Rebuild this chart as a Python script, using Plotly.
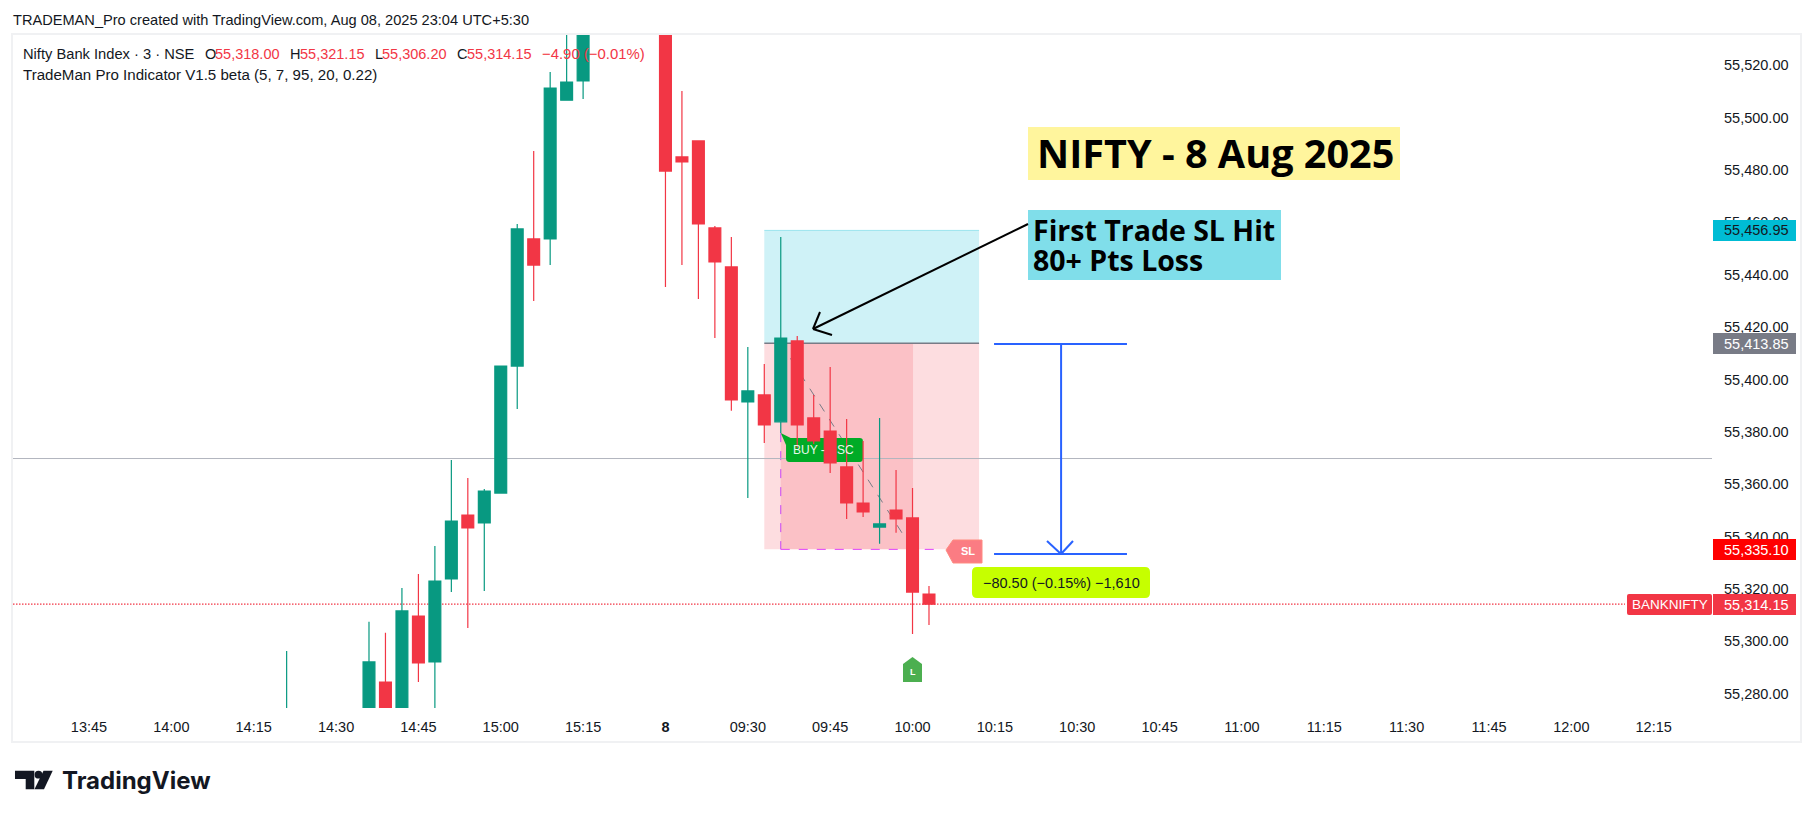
import plotly.graph_objects as go

W, H = 1815, 818
bar_index = [12, 17, 18, 19, 20, 21, 22, 23, 24, 25, 26, 27, 28, 29, 30,
             35, 36, 37, 38, 39, 40, 41, 42, 43, 44, 45, 46, 47, 48, 49, 50, 51]
opens = [55265, 55265, 55284.4, 55262, 55309.6, 55292.1, 55323.8, 55348.2, 55345.2, 55356.6, 55405.1, 55453.7, 55453.7, 55506.7, 55514.0,
         55560, 55485.0, 55491.1, 55457.9, 55443.0, 55391.4, 55394.1, 55383.8, 55414.7, 55385.3, 55380.3, 55366.6, 55352.8, 55343.6, 55350.1, 55347.1, 55318.0]
highs = [55296.3, 55307.4, 55303.2, 55320.3, 55325.7, 55336.4, 55369.2, 55362.4, 55358.2, 55405.1, 55459.4, 55487.3, 55517.4, 55540, 55550,
         55560, 55510.2, 55491.1, 55458.6, 55454.4, 55412.4, 55405.9, 55454.4, 55416.6, 55394.1, 55404.8, 55384.9, 55376.5, 55385.3, 55365.4, 55358.5, 55321.15]
lows = [55260, 55260, 55262, 55262, 55284.4, 55270, 55318.8, 55305.1, 55319.2, 55356.6, 55388.7, 55430.0, 55443.7, 55506.7, 55507.1,
        55435.3, 55443.7, 55430.7, 55415.8, 55388.0, 55354.7, 55375.7, 55379.5, 55373.8, 55375.3, 55364.3, 55346.7, 55347.5, 55337.2, 55341.4, 55302.8, 55306.2]
closes = [55270, 55292.1, 55262, 55311.6, 55291.7, 55323.0, 55345.9, 55343.3, 55357.4, 55405.1, 55457.5, 55443.7, 55511.3, 55513.6, 55545,
          55479.6, 55483.1, 55459.4, 55444.9, 55392.2, 55395.6, 55382.6, 55415.8, 55382.6, 55376.5, 55368.1, 55352.8, 55349.4, 55344.8, 55346.7, 55318.8, 55314.15]

time_tick_index = list(range(0, 100, 5))
time_tick_labels = ["13:45", "14:00", "14:15", "14:30", "14:45", "15:00", "15:15", "<b>8</b>", "09:30", "09:45",
                    "10:00", "10:15", "10:30", "10:45", "11:00", "11:15", "11:30", "11:45", "12:00", "12:15"]
price_ticks = [55280, 55300, 55320, 55340, 55360, 55380, 55400, 55420, 55440, 55460, 55480, 55500, 55520]

last_close = 55314.15
crosshair_price = 55369.8
target_price = 55456.95
entry_price = 55413.85
stop_price = 55335.10
measure_top = 55413.5
measure_bottom = 55333.3
buy_label_top = 55377.6
buy_label_bottom = 55368.5

GREEN = "#089981"
RED = "#F23645"
INK = "#131722"
FONT = "Liberation Sans"
BIG = "Open Sans"


def px(x):
    return x / W


def py(y):
    return 1 - y / H


fig = go.Figure(go.Candlestick(
    x=bar_index, open=opens, high=highs, low=lows, close=closes,
    increasing=dict(line=dict(color=GREEN, width=1.2), fillcolor=GREEN),
    decreasing=dict(line=dict(color=RED, width=1.2), fillcolor=RED),
    whiskerwidth=0, showlegend=False, hoverinfo="skip"))

shapes = []
annots = []


def rect_data(x0, x1, y0, y1, fill, layer="below"):
    shapes.append(dict(type="rect", xref="x", yref="y", x0=x0, x1=x1, y0=y0, y1=y1,
                       fillcolor=fill, line=dict(width=0), layer=layer))


def line_data(x0, y0, x1, y1, color, width=1, dash="solid", layer="below"):
    shapes.append(dict(type="line", xref="x", yref="y", x0=x0, y0=y0, x1=x1, y1=y1,
                       line=dict(color=color, width=width, dash=dash), layer=layer))


def rect_px(x0, y0, x1, y1, fill, layer="above", line=None):
    shapes.append(dict(type="rect", xref="paper", yref="paper", x0=px(x0), x1=px(x1), y0=py(y1), y1=py(y0),
                       fillcolor=fill, line=line or dict(width=0), layer=layer))


def round_px(x0, y0, x1, y1, r, fill, layer="above"):
    pts = (f"M {px(x0 + r):.5f} {py(y0):.5f} L {px(x1 - r):.5f} {py(y0):.5f} "
           f"Q {px(x1):.5f} {py(y0):.5f} {px(x1):.5f} {py(y0 + r):.5f} "
           f"L {px(x1):.5f} {py(y1 - r):.5f} Q {px(x1):.5f} {py(y1):.5f} {px(x1 - r):.5f} {py(y1):.5f} "
           f"L {px(x0 + r):.5f} {py(y1):.5f} Q {px(x0):.5f} {py(y1):.5f} {px(x0):.5f} {py(y1 - r):.5f} "
           f"L {px(x0):.5f} {py(y0 + r):.5f} Q {px(x0):.5f} {py(y0):.5f} {px(x0 + r):.5f} {py(y0):.5f} Z")
    shapes.append(dict(type="path", xref="paper", yref="paper", path=pts, fillcolor=fill,
                       line=dict(width=0), layer=layer))


def round_data(x0, x1, y0, y1, rx, ry, fill):
    d = (f"M {x0 + rx} {y1} L {x1 - rx} {y1} Q {x1} {y1} {x1} {y1 - ry} "
         f"L {x1} {y0 + ry} Q {x1} {y0} {x1 - rx} {y0} "
         f"L {x0 + rx} {y0} Q {x0} {y0} {x0} {y0 + ry} "
         f"L {x0} {y1 - ry} Q {x0} {y1} {x0 + rx} {y1} Z")
    shapes.append(dict(type="path", xref="x", yref="y", path=d, fillcolor=fill,
                       line=dict(width=0), layer="below"))


def line_px(x0, y0, x1, y1, color, width=1, dash="solid", layer="above"):
    shapes.append(dict(type="line", xref="paper", yref="paper", x0=px(x0), y0=py(y0), x1=px(x1), y1=py(y1),
                       line=dict(color=color, width=width, dash=dash), layer=layer))


def poly_px(points, fill, layer="above", line=None):
    d = "M " + " L ".join(f"{px(a):.5f} {py(b):.5f}" for a, b in points) + " Z"
    shapes.append(dict(type="path", xref="paper", yref="paper", path=d, fillcolor=fill,
                       line=line or dict(width=0), layer=layer))


def text_px(x, y, s, size=14.5, color=INK, anchor="left", family=FONT):
    annots.append(dict(xref="paper", yref="paper", x=px(x), y=py(y), text=s, showarrow=False,
                       xanchor=anchor, yanchor="middle", align="left",
                       font=dict(family=family, size=size, color=color),
                       borderpad=0, borderwidth=0))


# position tool
rect_data(41, 54.04, entry_price, target_price, "rgba(0,188,212,0.19)")
rect_data(41, 54.04, stop_price, entry_price, "rgba(244,67,84,0.18)")
rect_data(42, 50.03, stop_price, entry_price, "rgba(244,67,84,0.18)")
line_data(41, entry_price, 54.04, entry_price, "#787B86", 1.5)
line_data(41, target_price, 54.04, target_price, "rgba(0,188,212,0.3)", 1)
line_data(42, entry_price, 50, stop_price, "#787B86", 1, "dash")
line_data(42, 55379.5, 42, stop_price, "#C944F5", 1, "dash")
line_data(42, stop_price, 51.6, stop_price, "#E040FB", 1, "dash")

# horizontal lines
line_data(-4.614, crosshair_price, 98.54, crosshair_price, "#B2B5BE", 1)
line_data(-4.614, last_close, 93.26, last_close, RED, 1.3, "1.5px,1.5px")

# buy label under the candles
round_data(42.32, 46.99, buy_label_bottom, buy_label_top, 0.2, 1.2, "#00AB26")
shapes.append(dict(type="path", xref="x", yref="y",
                   path=f"M 42 55379.5 L 42.6 {buy_label_top} L 42.32 55375 Z",
                   fillcolor="#00AB26", line=dict(width=0), layer="below"))
text_px(793, 450, "BUY -", 12, "#E8F8EC")
text_px(836.5, 450, "SC", 12, "#E8F8EC")

# frame
rect_px(12, 34, 1801, 742, "rgba(0,0,0,0)", layer="above", line=dict(color="#F0F1F3", width=2))

# header and legend
text_px(13, 20, "TRADEMAN_Pro created with TradingView.com, Aug 08, 2025 23:04 UTC+5:30", 14.6)
text_px(23, 54, "Nifty Bank Index · 3 · NSE", 14.7)
for lx, lab, vx, val in [(204.5, "O", 215, "55,318.00"), (290, "H", 300, "55,321.15"),
                         (375, "L", 382, "55,306.20"), (457, "C", 466.5, "55,314.15")]:
    text_px(lx, 54, lab)
    text_px(vx, 54, val, color=RED)
text_px(541.5, 54, "−4.90 (−0.01%)", 14.9, color=RED)
text_px(23, 75, "TradeMan Pro Indicator V1.5 beta (5, 7, 95, 20, 0.22)", 15.1)

# text boxes
rect_px(1028, 127, 1400, 180, "#FFF59D")
text_px(1037, 153, "<b>NIFTY - 8 Aug 2025</b>", 39.6, "#000000", family=BIG)
rect_px(1028, 210, 1281, 280, "#80DEEA")
text_px(1033, 230, "<b>First Trade SL Hit</b>", 28.5, "#000000", family=BIG)
text_px(1033, 260, "<b>80+ Pts Loss</b>", 28.5, "#000000", family=BIG)

# arrow
line_px(1028, 224, 813, 329, "#000000", 2)
line_px(813, 329, 820, 312, "#000000", 2)
line_px(813, 329, 832, 335, "#000000", 2)

# measure
BLUE = "#2962FF"
line_data(54.95, measure_top, 63.02, measure_top, BLUE, 2, layer="above")
line_data(54.95, measure_bottom, 63.02, measure_bottom, BLUE, 2, layer="above")
line_data(59.02, measure_top, 59.02, measure_bottom, BLUE, 2, layer="above")
line_px(1061, 554, 1047, 541, BLUE, 2)
line_px(1061, 554, 1073, 541, BLUE, 2)
round_px(972, 567, 1150, 598, 5, "#C6FF00")
text_px(1061, 582.5, "−80.50 (−0.15%) −1,610", 14.5, "#131722", anchor="center")

# SL marker
poly_px([(946, 550), (953, 540), (982, 540), (982, 563), (953, 563)], "#FB7C83",
        line=dict(color="#FF8A80", width=1))
text_px(968, 551, "<b>SL</b>", 11, "#FFFFFF", anchor="center")

# L marker
poly_px([(912.5, 657), (922, 664), (922, 682), (903, 682), (903, 664)], "#4CAF50")
text_px(912.5, 672, "<b>L</b>", 9, "#FFFFFF", anchor="center")

# price labels
for y0, y1, fill, col, lab in [(220, 241, "#00BCD4", "#131722", "55,456.95"),
                               (333, 354, "#787B86", "#FFFFFF", "55,413.85"),
                               (539, 560, "#FF0000", "#FFFFFF", "55,335.10"),
                               (594, 615, "#F23645", "#FFFFFF", "55,314.15")]:
    rect_px(1713, y0, 1796, y1, fill)
    text_px(1724, (y0 + y1) / 2, lab, 14.5, col)
round_px(1627, 594, 1712, 615, 2, RED)
text_px(1669.5, 604.5, "BANKNIFTY", 13.5, "#FFFFFF", anchor="center")

# TradingView logo
poly_px([(15, 770.7), (34.3, 770.7), (34.3, 789.3), (25.7, 789.3), (25.7, 779), (15, 779)], "#131722")
poly_px([(43.5, 770.7), (52.7, 770.7), (44, 789.3), (34.5, 789.3)], "#131722")
shapes.append(dict(type="circle", xref="paper", yref="paper", x0=px(34.6), x1=px(42.4), y0=py(778.6), y1=py(770.8),
                   fillcolor="#131722", line=dict(width=0)))
text_px(62, 780, "<b>TradingView</b>", 24, "#131722", family="Inter")

fig.update_layout(
    width=W, height=H, autosize=False,
    margin=dict(l=0, r=0, t=0, b=0, pad=0),
    paper_bgcolor="#FFFFFF", plot_bgcolor="#FFFFFF",
    boxgap=0.28, boxgroupgap=0, showlegend=False,
    shapes=shapes, annotations=annots,
    xaxis=dict(domain=[13 / W, 1712 / W], range=[-4.614, 98.54], showgrid=False, zeroline=False,
               rangeslider=dict(visible=False), tickmode="array", tickvals=time_tick_index,
               ticktext=time_tick_labels, ticks="", showline=False,
               tickfont=dict(family=FONT, size=14.5, color=INK), ticklabelstandoff=8, anchor="y"),
    yaxis=dict(domain=[1 - 708 / H, 1 - 34 / H], range=[55274.5, 55531.96], side="right",
               showgrid=False, zeroline=False, tickmode="array", tickvals=price_ticks,
               tickformat=",.2f", ticks="", showline=False,
               tickfont=dict(family=FONT, size=14.5, color=INK), ticklabelstandoff=11, anchor="x"),
)

fig.write_html("out.html", config=dict(displayModeBar=False),
               post_script="document.body.style.margin='0';document.body.style.overflow='hidden';")
